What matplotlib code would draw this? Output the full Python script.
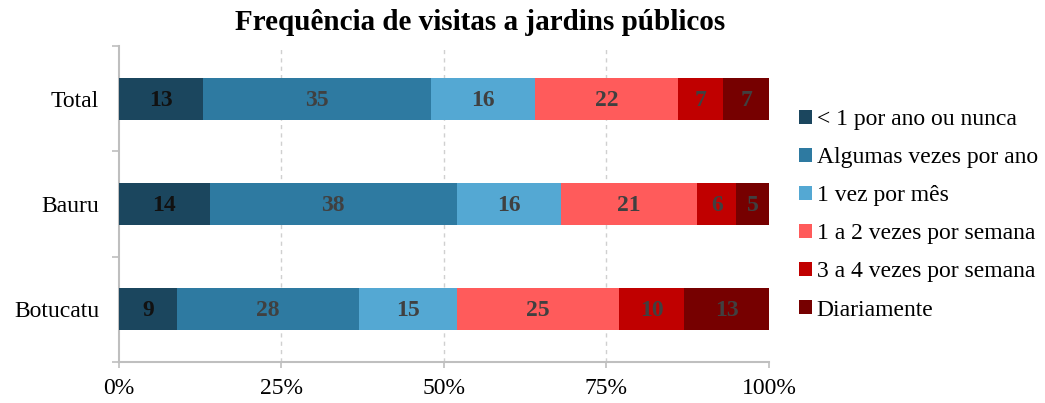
import matplotlib
matplotlib.use("Agg")
import matplotlib.pyplot as plt
from matplotlib.patches import Patch

plt.rcParams['font.family'] = ['Liberation Serif', 'DejaVu Serif']

categories = ["Total", "Bauru", "Botucatu"]
series = ["< 1 por ano ou nunca", "Algumas vezes por ano", "1 vez por mês",
          "1 a 2 vezes por semana", "3 a 4 vezes por semana", "Diariamente"]
values = {
    "Total":    [13, 35, 16, 22, 7, 7],
    "Bauru":    [14, 38, 16, 21, 6, 5],
    "Botucatu": [9, 28, 15, 25, 10, 13],
}
colors = ["#1b465e", "#2e7aa1", "#54a8d3", "#ff5b5b", "#c00000", "#760000"]
label_colors = ["#111111", "#404040", "#404040", "#404040", "#404040", "#404040"]
xticks = [0, 25, 50, 75, 100]
xticklabels = ["0%", "25%", "50%", "75%", "100%"]

fig = plt.figure(figsize=(10.45, 4.03), dpi=100)
ax = fig.add_axes([118.5/1045, 1-361.5/403, (769-118.5)/1045, (361.5-46.5)/403])

ypos = {c: len(categories) - 1 - i for i, c in enumerate(categories)}
for c in categories:
    left = 0
    for j, v in enumerate(values[c]):
        ax.barh(ypos[c], v, left=left, height=0.4, color=colors[j], edgecolor='none', zorder=3)
        ax.text(left + v/2, ypos[c] - 0.01, str(v), ha='center', va='center', fontsize=17,
                fontweight='bold', color=label_colors[j], zorder=4)
        left += v

ax.set_xlim(0, 100)
ax.set_ylim(-0.5, len(categories) - 0.5)
ax.set_xticks(xticks)
ax.set_xticklabels(xticklabels, fontsize=17)
ax.set_yticks([ypos[c] for c in categories])
ax.set_yticklabels(categories, fontsize=17)
ax.set_yticks([-0.5, 0.5, 1.5, 2.5], minor=True)
ax.tick_params(axis='y', which='major', length=0, pad=14)
ax.tick_params(axis='y', which='minor', length=5, color='#bfbfbf', width=1.2)
ax.tick_params(axis='x', which='major', length=4, color='#bfbfbf', width=1.2, pad=8)
for s in ['top', 'right']:
    ax.spines[s].set_visible(False)
for s in ['left', 'bottom']:
    ax.spines[s].set_color('#bfbfbf')
    ax.spines[s].set_linewidth(1.5)
for x in [25, 50, 75]:
    ax.axvline(x, color='#d0d0d0', linestyle=(0, (3, 3)), linewidth=1, zorder=1)

fig.text(480/1045, 1-22/403, "Frequência de visitas a jardins públicos",
         ha='center', va='center', fontsize=21, fontweight='bold')

handles = [Patch(facecolor=colors[j], edgecolor='none') for j in range(len(series))]
fig.legend(handles, series, loc='center left', bbox_to_anchor=(799/1045, 1-215/403),
           frameon=False, fontsize=17, handlelength=0.55, handleheight=0.55,
           handletextpad=0.2, labelspacing=0.72, borderaxespad=0, borderpad=0)

fig.savefig("out.png", dpi=100)
